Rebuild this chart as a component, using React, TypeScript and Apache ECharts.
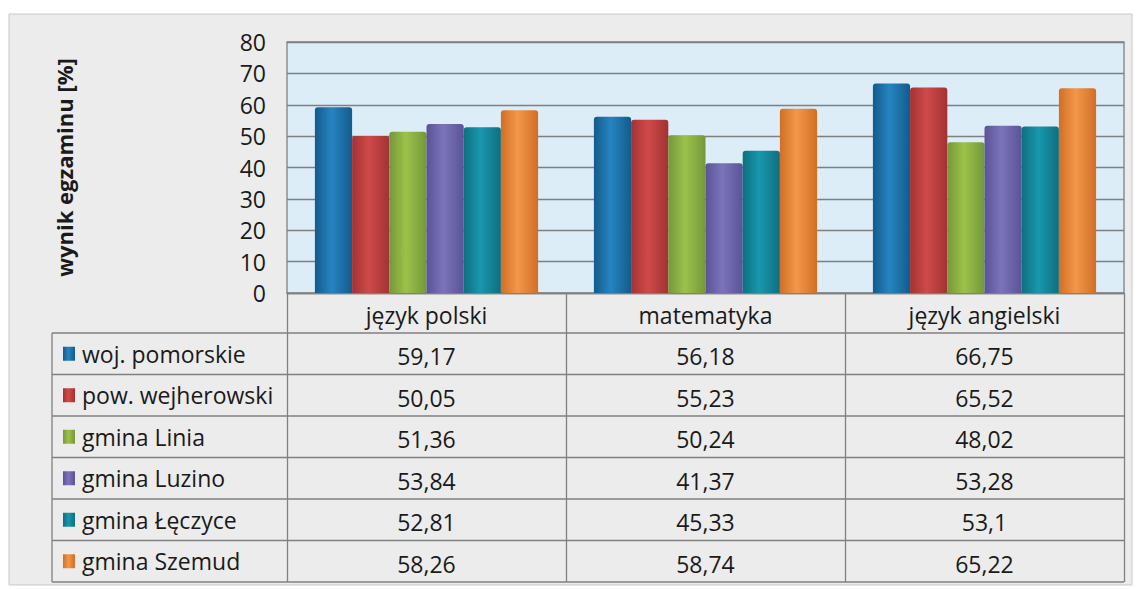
import React, { useEffect, useRef } from "react";
import * as echarts from "echarts";

const categories = ["język polski", "matematyka", "język angielski"];
const seriesNames = [
  "woj. pomorskie",
  "pow. wejherowski",
  "gmina Linia",
  "gmina Luzino",
  "gmina Łęczyce",
  "gmina Szemud",
];
const pomorskie = [59.17, 56.18, 66.75];
const wejherowski = [50.05, 55.23, 65.52];
const linia = [51.36, 50.24, 48.02];
const luzino = [53.84, 41.37, 53.28];
const leczyce = [52.81, 45.33, 53.1];
const szemud = [58.26, 58.74, 65.22];
const seriesValues = [pomorskie, wejherowski, linia, luzino, leczyce, szemud];
const yTicks = { min: 0, max: 80, interval: 10 };

const palette = [
  ["#135b8c", "#2684c0"],
  ["#a33233", "#cf4a4a"],
  ["#74983a", "#9cc24a"],
  ["#5a5396", "#7b74bb"],
  ["#0e6f80", "#1898ad"],
  ["#d06f26", "#f4974a"],
];

const FONT = "'Open Sans', 'Noto Sans', sans-serif";

export default function App() {
  const ref = useRef<HTMLDivElement>(null);
  useEffect(() => {
    if (!ref.current) return;
    const chart = echarts.init(ref.current, undefined, { renderer: "svg" });
    const W = 1139;
    const H = 589;
    const gridLeft = 287;
    const gridRight = 1124;
    const gridTop = 42;
    const gridBottom = 293;
    const headerH = 40;
    const rowH = 41.5;
    const tableLeft = 52;
    const firstRowTop = gridBottom + headerH;
    const tableBottom = firstRowTop + rowH * seriesNames.length;

    const fmt = (v: number) => String(v).replace(".", ",");

    const lines: any[] = [];
    for (let i = 0; i <= seriesNames.length; i++) {
      const y = firstRowTop + i * rowH;
      lines.push({
        type: "line",
        shape: { x1: tableLeft, y1: y, x2: gridRight, y2: y },
        style: { stroke: "#808080", lineWidth: 1.3 },
        z: 10,
      });
    }
    lines.push({
      type: "line",
      shape: { x1: tableLeft, y1: firstRowTop, x2: tableLeft, y2: tableBottom },
      style: { stroke: "#808080", lineWidth: 1.3 },
      z: 10,
    });

    chart.setOption({
      animation: false,
      textStyle: { fontFamily: FONT },
      graphic: [
        {
          type: "rect",
          z: -100,
          shape: { x: 9, y: 14, width: 1123, height: 571 },
          style: { fill: "#ececec", stroke: "#c9c9c9", lineWidth: 1 },
        },
        ...lines,
      ],
      grid: {
        left: gridLeft,
        right: W - gridRight,
        top: gridTop,
        bottom: H - gridBottom,
        show: true,
        backgroundColor: "#dcedf8",
        borderColor: "#808080",
        borderWidth: 1.3,
      },
      legend: {
        orient: "vertical",
        left: 63,
        top: firstRowTop,
        padding: 0,
        itemGap: 0,
        itemWidth: 12,
        itemHeight: 14,
        icon: "rect",
        data: seriesNames,
        textStyle: {
          fontFamily: FONT,
          fontSize: 23,
          lineHeight: rowH,
          color: "#1a1a1a",
          padding: [0, 0, 0, 2],
        },
      },
      xAxis: {
        type: "category",
        data: categories,
        axisLine: { show: true, lineStyle: { color: "#808080", width: 1.3 } },
        axisTick: {
          show: true,
          interval: 0,
          length: tableBottom - gridBottom,
          lineStyle: { color: "#808080", width: 1.3 },
        },
        axisLabel: {
          interval: 0,
          margin: 1,
          fontFamily: FONT,
          fontSize: 23,
          lineHeight: rowH,
          color: "#1a1a1a",
          formatter: (val: string, idx: number) =>
            [val, ...seriesValues.map((s) => fmt(s[idx]))].join("\n"),
        },
      },
      yAxis: {
        type: "value",
        min: yTicks.min,
        max: yTicks.max,
        interval: yTicks.interval,
        name: "wynik egzaminu [%]",
        nameLocation: "middle",
        nameRotate: 90,
        nameGap: 212,
        nameTextStyle: {
          fontFamily: FONT,
          fontSize: 22,
          fontWeight: "bold",
          color: "#1a1a1a",
        },
        axisLine: { show: false },
        axisTick: { show: false },
        axisLabel: {
          margin: 21,
          fontFamily: FONT,
          fontSize: 23,
          color: "#1a1a1a",
        },
        splitLine: { lineStyle: { color: "#808080", width: 1.3 } },
      },
      series: seriesNames.map((name, i) => ({
        name,
        type: "bar",
        data: seriesValues[i],
        barGap: "0%",
        barCategoryGap: "20%",
        itemStyle: {
          color: new echarts.graphic.LinearGradient(0, 0, 1, 0, [
            { offset: 0, color: palette[i][0] },
            { offset: 0.45, color: palette[i][1] },
            { offset: 1, color: palette[i][0] },
          ]),
          borderRadius: [3, 3, 0, 0],
        },
      })),
    });
    return () => chart.dispose();
  }, []);
  return (
    <div
      ref={ref}
      style={{ position: "absolute", left: 0, top: 0, width: 1139, height: 589, background: "#fff" }}
    />
  );
}
